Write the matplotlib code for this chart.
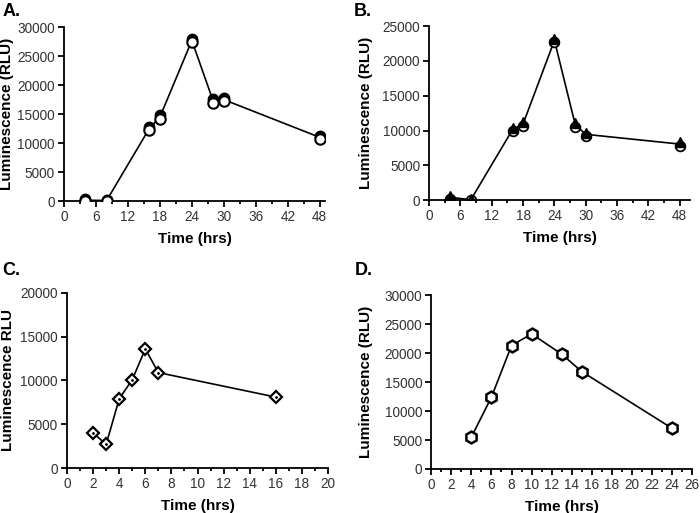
import numpy as np
import matplotlib
matplotlib.use("Agg")
from matplotlib import pyplot as plt
from matplotlib.ticker import MultipleLocator

plt.rcParams['font.family'] = ['Liberation Sans', 'DejaVu Sans']

# panel A
a_time = [4, 8, 16, 18, 24, 28, 30, 48]
a_filled = [300, 200, 12800, 14800, 28000, 17600, 17800, 11300]
a_open = [0, 0, 12200, 14200, 27400, 16900, 17200, 10700]

# panel B
b_time = [4, 8, 16, 18, 24, 28, 30, 48]
b_filled = [600, 100, 10400, 11200, 23200, 11100, 9700, 8300]
b_open = [200, 0, 9900, 10700, 22700, 10500, 9200, 7800]

# panel C
c_time = [2, 3, 4, 5, 6, 7, 16]
c_lum = [4000, 2700, 7900, 10100, 13600, 10900, 8100]

# panel D
d_time = [4, 6, 8, 10, 13, 15, 24]
d_lum = [5500, 12400, 21300, 23300, 19800, 16800, 7000]


def style(ax, xlim, xmaj, xmin, ylim, ymaj, ylabel, ylx):
    ax.set_xlim(*xlim)
    ax.set_ylim(*ylim)
    ax.xaxis.set_major_locator(MultipleLocator(xmaj))
    ax.xaxis.set_minor_locator(MultipleLocator(xmin))
    ax.yaxis.set_major_locator(MultipleLocator(ymaj))
    for s in ['top', 'right']:
        ax.spines[s].set_visible(False)
    for s in ['left', 'bottom']:
        ax.spines[s].set_linewidth(1.3)
    ax.tick_params(which='major', length=4, width=1.3, labelsize=9.8, pad=2.5, labelcolor='#333333')
    ax.tick_params(which='minor', length=2.5, width=1.3)
    ax.set_xlabel('Time (hrs)', fontsize=11, fontweight='bold', labelpad=6)
    ax.set_ylabel(ylabel, fontsize=11, fontweight='bold')
    ax.yaxis.set_label_coords(ylx, 0.5)


fig = plt.figure(figsize=(7, 5.13), dpi=100)

axA = fig.add_axes([0.0914, 0.608, 0.373, 0.339])
axA.plot(a_time, (np.array(a_filled) + np.array(a_open)) / 2, '-', color='k', lw=1.2, zorder=1)
axA.plot(a_time, a_filled, 'o', ms=7.5, mfc='k', mec='k', zorder=2)
axA.plot(a_time, a_open, 'o', ms=7.5, mfc='white', mec='k', mew=1.5, zorder=3)
style(axA, (0, 49), 6, 3, (0, 30000), 5000, 'Luminescence (RLU)', -0.19)

axB = fig.add_axes([0.613, 0.610, 0.373, 0.339])
axB.plot(b_time, (np.array(b_filled) + np.array(b_open)) / 2, '-', color='k', lw=1.2, zorder=1)
axB.plot(b_time, b_open, 'o', ms=7, mfc='white', mec='k', mew=1.3, zorder=2)
axB.plot(b_time, b_filled, '^', ms=7, mfc='k', mec='k', zorder=3)
style(axB, (0, 50), 6, 3, (0, 25000), 5000, 'Luminescence (RLU)', -0.215)

axC = fig.add_axes([0.0957, 0.0877, 0.373, 0.3413])
axC.plot(c_time, c_lum, '-', color='k', lw=1.2, zorder=1)
axC.plot(c_time, c_lum, 'D', ms=6, mfc='white', mec='k', mew=1.6, zorder=2)
axC.plot(c_time, c_lum, '.', ms=2, color='k', zorder=3)
style(axC, (0, 20), 2, 1, (0, 20000), 5000, 'Luminescence RLU', -0.2)

axD = fig.add_axes([0.616, 0.0858, 0.373, 0.339])
axD.plot(d_time, d_lum, '-', color='k', lw=1.2, zorder=1)
axD.plot(d_time, d_lum, 'h', ms=8.5, mfc='white', mec='k', mew=1.8, zorder=2)
style(axD, (0, 26), 2, 1, (0, 30000), 5000, 'Luminescence (RLU)', -0.222)

for lab, x, y in [('A.', 0.003, 0.995), ('B.', 0.505, 0.995), ('C.', 0.003, 0.49), ('D.', 0.507, 0.49)]:
    fig.text(x, y, lab, fontsize=13, fontweight='bold', va='top', ha='left')

fig.savefig('out.png', dpi=100)
